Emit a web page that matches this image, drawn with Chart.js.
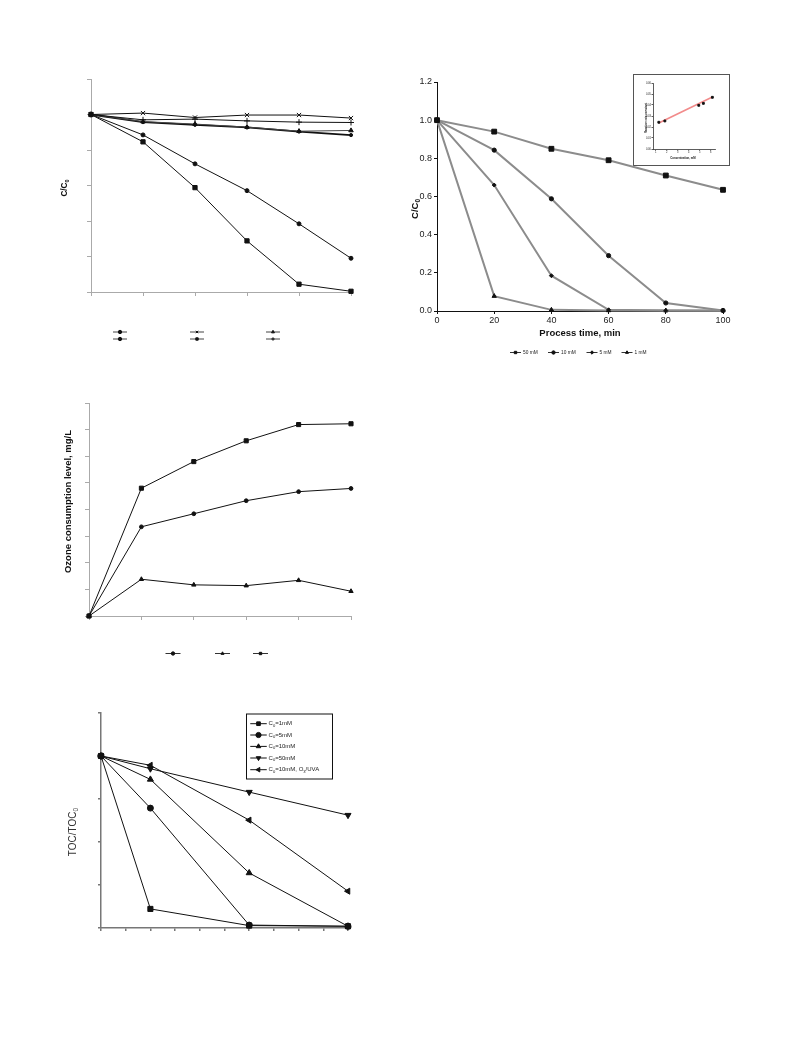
<!DOCTYPE html>
<html>
<head>
<meta charset="utf-8">
<script src="https://cdn.jsdelivr.net/npm/chart.js@4.4.1/dist/chart.umd.min.js"></script>
<style>
  html, body { margin: 0; padding: 0; background: #fff; }
  body { width: 793px; height: 1057px; position: relative; overflow: hidden; }
  canvas { position: absolute; z-index: 2; }
  #insetBox { position: absolute; left: 633px; top: 74px; width: 97px; height: 92px;
              box-sizing: border-box; border: 1px solid #555; background: #fff; z-index: 1; }
</style>
</head>
<body>
<canvas id="decayChart"></canvas>
<canvas id="concChart"></canvas>
<div id="insetBox"></div>
<canvas id="insetChart"></canvas>
<canvas id="ozoneChart"></canvas>
<canvas id="tocChart"></canvas>
<script>
// ---- data ----
const timeMin = [0, 20, 40, 60, 80, 100];

// top left: C/C0 vs time
const decayCross  = [1.00, 1.008, 0.983, 0.997, 0.997, 0.980];
const decayPlus   = [1.00, 0.970, 0.974, 0.964, 0.957, 0.955];
const decayTri    = [1.00, 0.960, 0.946, 0.929, 0.906, 0.910];
const decayBold   = [1.00, 0.957, 0.942, 0.927, 0.904, 0.884];
const decayCircle = [1.00, 0.885, 0.722, 0.571, 0.384, 0.190];
const decaySquare = [1.00, 0.846, 0.588, 0.288, 0.044, 0.004];

// top right: C/C0 vs process time
const concLabels = ['50 mM', '10 mM', '5 mM', '1 mM'];
const conc50 = [1.00, 0.940, 0.850, 0.790, 0.710, 0.635];
const conc10 = [1.00, 0.843, 0.588, 0.290, 0.042, 0.003];
const conc5  = [1.00, 0.660, 0.185, 0.006, 0.002, 0.001];
const conc1  = [1.00, 0.078, 0.006, 0.003, 0.002, 0.002];

// inset: rate constant vs concentration
const insetConc = [1.28, 1.83, 4.92, 5.34, 6.16];
const insetRate = [0.0243, 0.0255, 0.0397, 0.0415, 0.0470];
const insetFitX = [1.28, 6.16];
const insetFitY = [0.0236, 0.0473];
const insetXTicks = [1, 2, 3, 4, 5, 6];

// middle left: ozone consumption
const ozoneSquare = [0, 48.0, 58.0, 65.8, 71.9, 72.2];
const ozoneCircle = [0, 33.5, 38.4, 43.3, 46.7, 47.9];
const ozoneTri    = [0, 13.8, 11.7, 11.4, 13.4, 9.3];

// bottom left: TOC/TOC0
const tocTime = [0, 20, 60, 100];
const tocLabels = ['C_0=1mM', 'C_0=5mM', 'C_0=10mM', 'C_0=50mM', 'C_0=10mM, O_3/UVA'];
const toc1   = [1.00, 0.111, 0.014, 0.010];
const toc5   = [1.00, 0.697, 0.017, 0.010];
const toc10  = [1.00, 0.864, 0.320, 0.010];
const toc50  = [1.00, 0.926, 0.790, 0.656];
const tocUva = [1.00, 0.946, 0.627, 0.214];

// ---- helpers ----
const FONT = '"Liberation Sans", Arial, Helvetica, sans-serif';
Chart.defaults.font.family = FONT;
Chart.defaults.color = '#222';

function place(id, left, top, w, h) {
  const c = document.getElementById(id);
  c.width = w; c.height = h;
  c.style.left = left + 'px'; c.style.top = top + 'px';
  c.style.width = w + 'px'; c.style.height = h + 'px';
  return c.getContext('2d');
}

// text with "_x" meaning subscript x
function richText(ctx, text, x, y, size, weight, align, color) {
  const parts = text.split(/_(.)/);
  const fontOf = sub => `${weight || 'normal'} ${sub ? size * 0.68 : size}px ${FONT}`;
  let w = 0;
  parts.forEach((p, i) => { ctx.font = fontOf(i % 2); w += ctx.measureText(p).width; });
  let cx = align === 'center' ? x - w / 2 : x;
  ctx.fillStyle = color || '#111';
  ctx.textBaseline = 'middle';
  ctx.textAlign = 'left';
  parts.forEach((p, i) => {
    const sub = i % 2;
    ctx.font = fontOf(sub);
    ctx.fillText(p, cx, y + (sub ? size * 0.32 : 0));
    cx += ctx.measureText(p).width;
  });
}

function marker(ctx, ds, r, x, y) {
  ctx.fillStyle = ds.pointBackgroundColor;
  ctx.strokeStyle = ds.pointBorderColor;
  ctx.lineWidth = 1;
  Chart.helpers.drawPoint(ctx, {
    pointStyle: ds.pointStyle, rotation: ds.pointRotation || 0, radius: r, borderWidth: 1
  }, x, y);
}

// legend drawn as line + marker (+ optional text)
const lineKey = {
  id: 'lineKey',
  afterDraw(chart, args, opts) {
    if (!opts.items) return;
    const ctx = chart.ctx;
    ctx.save();
    if (opts.box) {
      ctx.strokeStyle = '#111'; ctx.lineWidth = 1;
      ctx.strokeRect(opts.box[0], opts.box[1], opts.box[2], opts.box[3]);
    }
    opts.items.forEach(it => {
      const ds = chart.data.datasets[it.ds];
      const half = opts.len / 2;
      ctx.strokeStyle = opts.lineColor || ds.borderColor;
      ctx.lineWidth = opts.lineWidth || 1;
      ctx.beginPath();
      ctx.moveTo(it.x - half, it.y);
      ctx.lineTo(it.x + half, it.y);
      ctx.stroke();
      marker(ctx, ds, opts.radius, it.x, it.y);
      if (ds.label && opts.font) {
        richText(ctx, ds.label, it.x + half + opts.gap, it.y, opts.font, 'normal', 'left', '#222');
      }
    });
    ctx.restore();
  }
};

// free titles (rotated, with subscripts)
const sideText = {
  id: 'sideText',
  afterDraw(chart, args, opts) {
    (opts.items || []).forEach(t => {
      const ctx = chart.ctx;
      ctx.save();
      ctx.translate(t.x, t.y);
      if (t.rotate) ctx.rotate(t.rotate * Math.PI / 180);
      richText(ctx, t.text, 0, 0, t.size, t.weight, 'center', t.color);
      ctx.restore();
    });
  }
};
Chart.register(lineKey, sideText);

function series(xs, ys, style, extra) {
  return Object.assign({
    data: xs.map((x, i) => ({ x: x, y: ys[i] })),
    borderColor: '#111', borderWidth: 1,
    pointStyle: style, pointRadius: 2.5, pointHoverRadius: 2.5,
    pointBackgroundColor: '#111', pointBorderColor: '#111', pointBorderWidth: 1,
    tension: 0, fill: false, clip: false
  }, extra || {});
}

function axis(o) {
  return {
    type: 'linear', min: o.min, max: o.max,
    afterFit: o.fit,
    afterBuildTicks: o.list ? s => { s.ticks = o.list.map(v => ({ value: v })); } : undefined,
    ticks: {
      stepSize: o.step, display: !!o.labels, callback: o.labels,
      font: { size: o.fontSize || 9 }, color: '#222', padding: o.pad == null ? 2 : o.pad,
      maxRotation: 0, autoSkip: false
    },
    grid: { drawOnChartArea: false, drawTicks: true, tickLength: o.tick, color: o.color, lineWidth: o.width },
    border: { display: true, color: o.color, width: o.width },
    title: o.title || { display: false }
  };
}

function base(L, T, R, B, xAxis, yAxis, plugins) {
  xAxis.afterFit = s => { s.height = B; };
  yAxis.afterFit = s => { s.width = L; };
  return {
    responsive: false, animation: false, events: [],
    layout: { padding: { left: 0, top: T, right: R, bottom: 0 } },
    scales: { x: xAxis, y: yAxis },
    plugins: Object.assign({ legend: { display: false }, tooltip: { enabled: false } }, plugins)
  };
}

// ---- top left ----
new Chart(place('decayChart', 45, 69, 318, 283), {
  type: 'line',
  data: { datasets: [
    series(timeMin, decayCross,  'crossRot', { pointRadius: 3 }),
    series(timeMin, decayPlus,   'cross',    { pointRadius: 3 }),
    series(timeMin, decayTri,    'triangle', { pointRadius: 2.6, borderColor: '#444' }),
    series(timeMin, decayBold,   'circle',   { pointRadius: 1.6, borderWidth: 1.8 }),
    series(timeMin, decayCircle, 'circle',   { pointRadius: 2.0 }),
    series(timeMin, decaySquare, 'rect',     { pointRadius: 3.0 })
  ] },
  options: base(46, 10, 12, 60,
    axis({ min: 0, max: 100, step: 20, tick: 4, color: '#aaa', width: 1 }),
    axis({ min: 0, max: 1.2, step: 0.2, tick: 4, color: '#aaa', width: 1 }),
    {
      lineKey: { len: 14, radius: 1.7, lineColor: '#444', items: [
        { ds: 4, x: 75, y: 263 }, { ds: 0, x: 152, y: 263 }, { ds: 2, x: 228, y: 263 },
        { ds: 3, x: 75, y: 270 }, { ds: 5, x: 152, y: 270 }, { ds: 1, x: 228, y: 270 }
      ] },
      sideText: { items: [{ text: 'C/C_0', x: 20, y: 119, size: 8.2, weight: 'bold', rotate: -90 }] }
    })
});

// ---- top right ----
const concStyles = ['rect', 'circle', 'rectRot', 'triangle'];
const concRadius = [3.4, 2.1, 2.0, 2.5];
new Chart(place('concChart', 395, 72, 340, 294), {
  type: 'line',
  data: { datasets: [conc50, conc10, conc5, conc1].map((ys, i) =>
    series(timeMin, ys, concStyles[i], {
      label: concLabels[i], borderColor: '#8c8c8c', borderWidth: 2, pointRadius: concRadius[i]
    })) },
  options: base(42, 10, 12, 55,
    axis({ min: 0, max: 100, step: 20, tick: 3, color: '#111', width: 1, pad: 1, fontSize: 9,
           labels: v => v,
           title: { display: true, text: 'Process time, min', color: '#111',
                    font: { size: 9.5, weight: 'bold' }, padding: { top: 0, bottom: 27 } } }),
    axis({ min: 0, max: 1.2, step: 0.2, tick: 3, color: '#111', width: 1, pad: 2, fontSize: 9,
           labels: v => v.toFixed(1) }),
    {
      lineKey: { len: 11, radius: 1.7, gap: 2, font: 4.8, lineColor: '#333', items: [
        { ds: 0, x: 120.5, y: 280.5 }, { ds: 1, x: 158.5, y: 280.5 },
        { ds: 2, x: 197, y: 280.5 }, { ds: 3, x: 232, y: 280.5 }
      ] },
      sideText: { items: [{ text: 'C/C_0', x: 20, y: 137, size: 9.5, weight: 'bold', rotate: -90 }] }
    })
});

// ---- inset ----
new Chart(place('insetChart', 634, 75, 95, 90), {
  type: 'line',
  data: { datasets: [
    series(insetConc, insetRate, 'rect', { showLine: false, pointRadius: 1.3 }),
    series(insetFitX, insetFitY, 'circle', { borderColor: '#f28b8b', borderWidth: 1.6, pointRadius: 0 })
  ] },
  options: base(19, 8, 14, 16,
    axis({ min: 0.75, max: 6.4, list: insetXTicks, tick: 1.5, color: '#333', width: 0.8, pad: 0.5,
           fontSize: 2.6, labels: v => v }),
    axis({ min: 0, max: 0.06, step: 0.01, tick: 1.5, color: '#333', width: 0.8, pad: 0.5,
           fontSize: 2.6, labels: v => v.toFixed(2) }),
    {
      sideText: { items: [
        { text: 'Reaction rate constant', x: 12.5, y: 43, size: 2.8, weight: 'bold', rotate: -90 },
        { text: 'Concentration, mM', x: 49, y: 83.5, size: 2.8, weight: 'bold' }
      ] }
    })
});

// ---- middle left ----
new Chart(place('ozoneChart', 45, 393, 318, 273), {
  type: 'line',
  data: { datasets: [
    series(timeMin, ozoneCircle, 'circle',   { pointRadius: 1.9 }),
    series(timeMin, ozoneTri,    'triangle', { pointRadius: 2.5 }),
    series(timeMin, ozoneSquare, 'rect',     { pointRadius: 2.9 })
  ] },
  options: base(44, 10, 12, 50,
    axis({ min: 0, max: 100, step: 20, tick: 4, color: '#aaa', width: 1 }),
    axis({ min: 0, max: 80, step: 10, tick: 4, color: '#aaa', width: 1 }),
    {
      lineKey: { len: 15, radius: 1.7, lineColor: '#333', items: [
        { ds: 0, x: 128, y: 260.5 }, { ds: 1, x: 177.5, y: 260.5 }, { ds: 2, x: 215.5, y: 260.5 }
      ] },
      sideText: { items: [{ text: 'Ozone consumption level, mg/L', x: 23, y: 108.5,
                            size: 9.5, weight: 'bold', rotate: -90 }] }
    })
});

// ---- bottom left ----
const tocStyles = ['rect', 'circle', 'triangle', 'triangle', 'triangle'];
const tocRot = [0, 0, 0, 180, -90];
const tocRadius = [3.6, 3.0, 3.5, 3.5, 3.5];
new Chart(place('tocChart', 55, 703, 305, 245), {
  type: 'line',
  data: { datasets: [toc1, toc5, toc10, toc50, tocUva].map((ys, i) =>
    series(tocTime, ys, tocStyles[i], {
      label: tocLabels[i], pointRotation: tocRot[i], pointRadius: tocRadius[i]
    })) },
  options: base(46, 10, 12, 20,
    axis({ min: 0, max: 100, step: 10, tick: 3, color: '#777', width: 1.5 }),
    axis({ min: 0, max: 1.25, step: 0.25, tick: 3, color: '#777', width: 1.5 }),
    {
      lineKey: { len: 16.5, radius: 2.6, gap: 1.8, font: 6, lineColor: '#111',
                 box: [191.5, 11, 86, 65], items: [
        { ds: 0, x: 203.5, y: 20.7 }, { ds: 1, x: 203.5, y: 32 }, { ds: 2, x: 203.5, y: 43.4 },
        { ds: 3, x: 203.5, y: 55 }, { ds: 4, x: 203.5, y: 66.7 }
      ] },
      sideText: { items: [{ text: 'TOC/TOC_0', x: 18, y: 129, size: 10, weight: 'normal',
                            color: '#333', rotate: -90 }] }
    })
});
</script>
</body>
</html>
